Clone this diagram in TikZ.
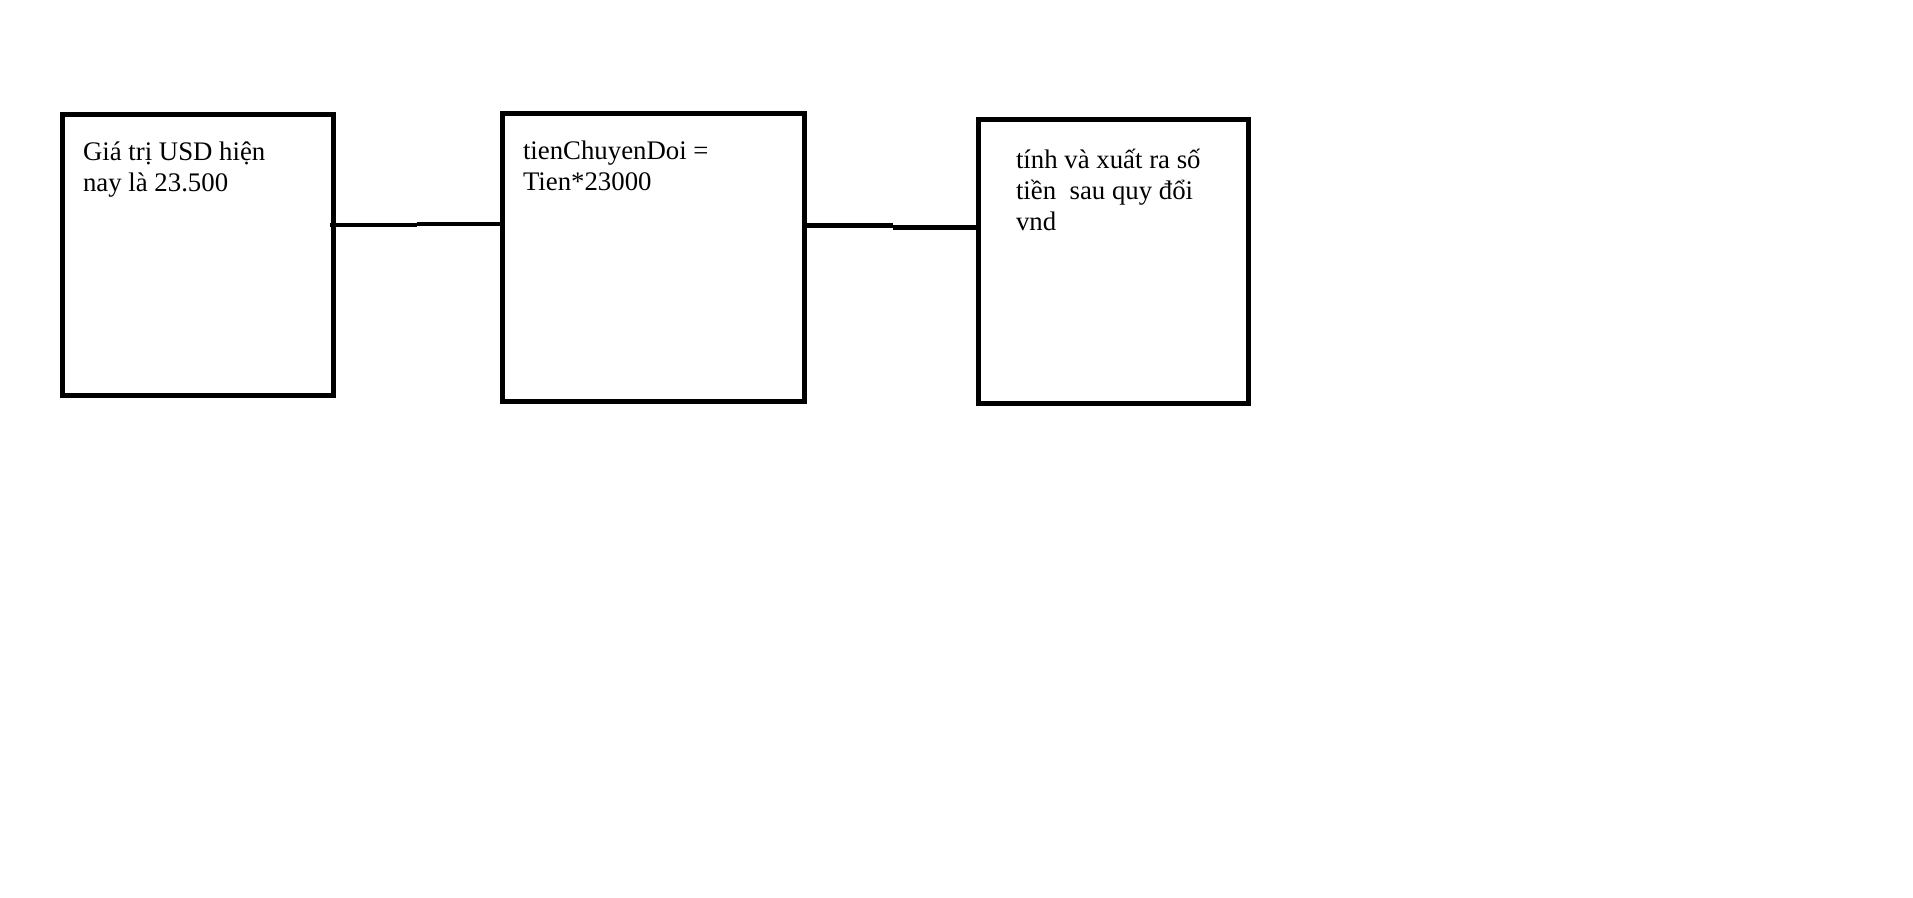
\documentclass[tikz,border=0pt]{standalone}
\usepackage{fontspec}
\setmainfont{Liberation Serif}
\begin{document}
\begin{tikzpicture}[x=1pt,y=-1pt,
  box/.style={draw=black,line width=5pt,inner sep=0pt,outer sep=0pt},
  link/.style={draw=black,line width=4.8pt,line cap=butt},
  label/.style={anchor=base west,inner sep=0pt,outer sep=0pt,align=left,
    font=\fontsize{26.8pt}{31.2pt}\selectfont}]
  % page frame
  \useasboundingbox (0,0) rectangle (1913,897);

  % boxes
  \node[box,minimum width=270.5pt,minimum height=281.5pt] (b1) at (197.75,254.75) {};
  \node[box,minimum width=301.5pt,minimum height=288.2pt] (b2) at (653.25,257.6) {};
  \node[box,minimum width=269.5pt,minimum height=284pt] (b3) at (1113.25,261.5) {};

  % box texts (anchored at the baseline of their last line)
  \node[label] (t1) at (83,191.7) {Giá trị USD hiện\\nay là 23.500};
  \node[label] (t2) at (523,190.5) {tienChuyenDoi =\\Tien*23000};
  \node[label] (t3) at (1016,230.5) {tính và xuất ra số\\tiền~ sau quy đổi\\vnd};

  % connectors, each drawn in two strokes
  \coordinate (j1a) at (416.7,225);
  \coordinate (j1b) at (416.7,224);
  \coordinate (j2a) at (893,225.8);
  \coordinate (j2b) at (893,227.5);
  \draw[link] ([xshift=-3pt]j1a -| b1.east) -- (j1a);
  \draw[link] (j1b) -- (j1b -| b2.west);
  \draw[link] (j2a -| b2.east) -- (j2a);
  \draw[link] (j2b) -- ([xshift=2pt]j2b -| b3.west);
\end{tikzpicture}
\end{document}
